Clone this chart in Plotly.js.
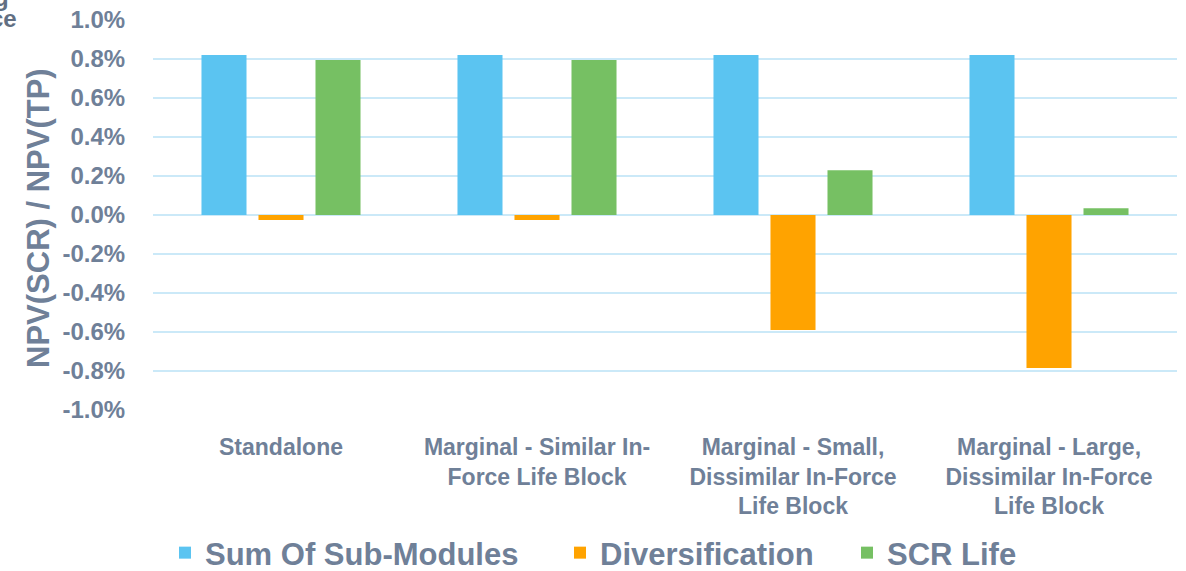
<!DOCTYPE html>
<html>
<head>
<meta charset="utf-8">
<script src="https://cdn.plot.ly/plotly-3.0.1.min.js"></script>
<style>
  html, body { margin: 0; padding: 0; background: #ffffff; }
  #chart { width: 1186px; height: 571px; }
</style>
</head>
<body>
<div id="chart"></div>
<script>
// Scenario categories (x axis)
const categories = [
  "Standalone",
  "Marginal - Similar In-<br>Force Life Block",
  "Marginal - Small,<br>Dissimilar In-Force<br>Life Block",
  "Marginal - Large,<br>Dissimilar In-Force<br>Life Block"
];

// NPV(SCR) / NPV(TP), in percent
const sumOfSubModules = [0.82, 0.82, 0.82, 0.82];
const diversification = [-0.025, -0.025, -0.59, -0.785];
const scrLife = [0.795, 0.795, 0.23, 0.035];

const yTicks = [-1.0, -0.8, -0.6, -0.4, -0.2, 0.0, 0.2, 0.4, 0.6, 0.8, 1.0];

const seriesNames = ["Sum Of Sub-Modules", "Diversification", "SCR Life"];
const seriesColors = ["#5BC4F1", "#FFA300", "#76C063"];

const textColor = "#6F8098";
const gridColor = "#CBE9F8";
const fontFamily = "Liberation Sans, Arial, sans-serif";

const W = 1186, H = 571;
const M = { l: 153, r: 9, t: 20, b: 161 };
const plotW = W - M.l - M.r;
const plotH = H - M.t - M.b;
// page pixels -> paper / container coordinates
const px = x => (x - M.l) / plotW;
const py = y => 1 - (y - M.t) / plotH;
const cx = x => x / W;
const cy = y => 1 - y / H;

const seriesValues = [sumOfSubModules, diversification, scrLife];
const legendIds = ["legend", "legend2", "legend3"];

const traces = seriesValues.map((vals, i) => ({
  type: "bar",
  name: seriesNames[i],
  x: categories,
  y: vals,
  marker: { color: seriesColors[i] },
  legend: legendIds[i],
  hoverinfo: "skip"
}));

const legendFont = { family: fontFamily, size: 31, color: textColor, weight: "bold" };
function legendAt(xPix) {
  return {
    orientation: "h",
    xref: "container", yref: "container",
    x: cx(xPix), xanchor: "left",
    y: cy(553), yanchor: "middle",
    font: legendFont,
    bgcolor: "rgba(0,0,0,0)",
    borderwidth: 0,
    itemclick: false
  };
}

const layout = {
  width: W,
  height: H,
  margin: M,
  paper_bgcolor: "#ffffff",
  plot_bgcolor: "#ffffff",
  barmode: "group",
  bargap: 0.332,
  bargroupgap: 0.21,
  showlegend: true,
  legend: legendAt(165),
  legend2: legendAt(560),
  legend3: legendAt(847),
  font: { family: fontFamily, color: textColor, weight: "bold" },
  xaxis: {
    type: "category",
    showgrid: false,
    showline: false,
    zeroline: false,
    ticks: "outside",
    ticklen: 16,
    tickcolor: "rgba(0,0,0,0)",
    tickfont: { family: fontFamily, size: 23, color: textColor, weight: "bold" },
    tickangle: 0,
    automargin: false,
    fixedrange: true
  },
  yaxis: {
    range: [-1.0, 1.0],
    tickvals: yTicks,
    ticktext: yTicks.map(v => v.toFixed(1) + "%"),
    showgrid: true,
    gridcolor: gridColor,
    gridwidth: 2,
    zeroline: true,
    zerolinecolor: gridColor,
    zerolinewidth: 2,
    showline: false,
    ticks: "outside",
    ticklen: 22,
    tickcolor: "rgba(0,0,0,0)",
    tickfont: { family: fontFamily, size: 24, color: textColor, weight: "bold" },
    automargin: false,
    fixedrange: true
  },
  annotations: [
    {
      text: "NPV(SCR) / NPV(TP)",
      xref: "paper", yref: "paper",
      x: px(38), y: py(218),
      xanchor: "center", yanchor: "middle",
      textangle: -90,
      showarrow: false,
      font: { family: fontFamily, size: 31, color: textColor, weight: "bold" }
    },
    {
      text: "g",
      xref: "paper", yref: "paper",
      x: px(11), y: py(-2),
      xanchor: "right", yanchor: "middle",
      showarrow: false,
      font: { family: fontFamily, size: 24, color: "#626F82", weight: "bold" }
    },
    {
      text: "ce",
      xref: "paper", yref: "paper",
      x: px(19), y: py(18),
      xanchor: "right", yanchor: "middle",
      showarrow: false,
      font: { family: fontFamily, size: 24, color: "#626F82", weight: "bold" }
    }
  ]
};

Plotly.newPlot("chart", traces, layout, { staticPlot: true, displayModeBar: false });
</script>
</body>
</html>
